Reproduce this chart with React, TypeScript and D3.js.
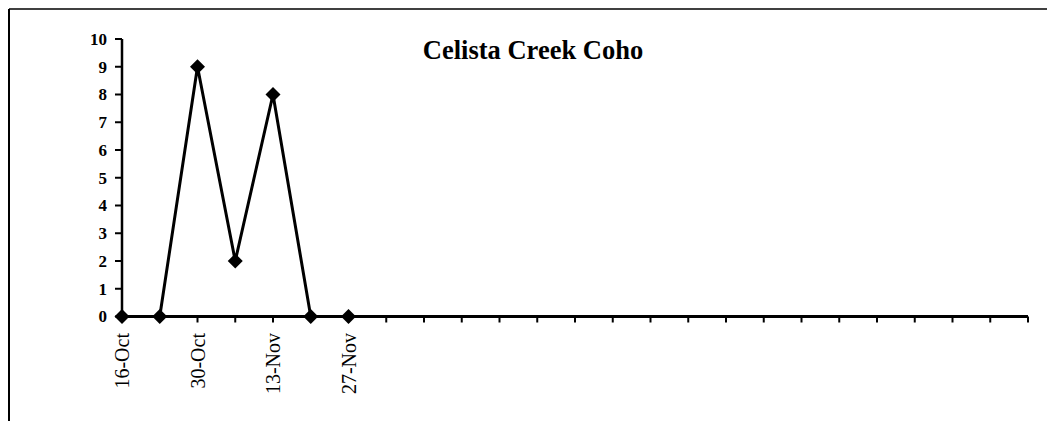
import React from "react";
import * as d3 from "d3";

const categories: string[] = [
  "16-Oct", "23-Oct", "30-Oct", "6-Nov", "13-Nov", "20-Nov", "27-Nov",
  "4-Dec", "11-Dec", "18-Dec", "25-Dec", "1-Jan", "8-Jan", "15-Jan", "22-Jan",
  "29-Jan", "5-Feb", "12-Feb", "19-Feb", "26-Feb", "5-Mar", "12-Mar", "19-Mar",
  "26-Mar", "2-Apr",
];
const shownLabels: string[] = ["16-Oct", "30-Oct", "13-Nov", "27-Nov"];
const values: number[] = [0, 0, 9, 2, 8, 0, 0];
const yTicks: number[] = [0, 1, 2, 3, 4, 5, 6, 7, 8, 9, 10];
const title = "Celista Creek Coho";

const W = 1047;
const H = 423;
const serif = "'Liberation Serif', 'Times New Roman', serif";

export default function App() {
  const x = d3.scalePoint<string>().domain(categories).range([122, 1028]);
  const y = d3.scaleLinear().domain([0, 10]).range([316.5, 39]);
  const pts = values.map((v, i) => [x(categories[i]) as number, y(v)] as [number, number]);
  const line = d3.line<[number, number]>().x((d) => d[0]).y((d) => d[1]);
  const diamond = (cx: number, cy: number, r: number) =>
    `M${cx},${cy - r}L${cx + r},${cy}L${cx},${cy + r}L${cx - r},${cy}Z`;
  const y0 = y(0);

  return (
    <svg width={W} height={H} style={{ position: "absolute", left: 0, top: 0, background: "#fff" }}>
      {/* outer frame */}
      <line x1={9} y1={9} x2={W} y2={9} stroke="#000" strokeWidth={1.5} />
      <line x1={9} y1={9} x2={9} y2={421} stroke="#000" strokeWidth={2} />

      {/* title */}
      <text x={533} y={59} textAnchor="middle" fontFamily={serif} fontWeight="bold" fontSize={26.5}>
        {title}
      </text>

      {/* y axis */}
      <line x1={122} y1={y(10)} x2={122} y2={y0} stroke="#000" strokeWidth={2.5} />
      {yTicks.map((t) => (
        <g key={t}>
          <line x1={115} y1={y(t)} x2={122} y2={y(t)} stroke="#000" strokeWidth={2} />
          <text x={107} y={y(t)} dy="0.35em" textAnchor="end" fontFamily={serif} fontWeight="bold" fontSize={17}>
            {t}
          </text>
        </g>
      ))}

      {/* x axis */}
      <line x1={122} y1={y0} x2={1028} y2={y0} stroke="#000" strokeWidth={3} />
      {categories.map((c) => (
        <line key={c} x1={x(c)} y1={y0} x2={x(c)} y2={y0 + 6} stroke="#000" strokeWidth={2} />
      ))}
      {shownLabels.map((c) => {
        const cx = x(c) as number;
        return (
          <text
            key={c}
            transform={`translate(${cx + 7},${333}) rotate(-90)`}
            textAnchor="end"
            fontFamily={serif}
            fontSize={20}
          >
            {c}
          </text>
        );
      })}

      {/* series */}
      <path d={line(pts) || ""} fill="none" stroke="#000" strokeWidth={3} strokeLinejoin="miter" />
      {pts.map((p, i) => (
        <path key={i} d={diamond(p[0], p[1], 7.5)} fill="#000" />
      ))}
    </svg>
  );
}
